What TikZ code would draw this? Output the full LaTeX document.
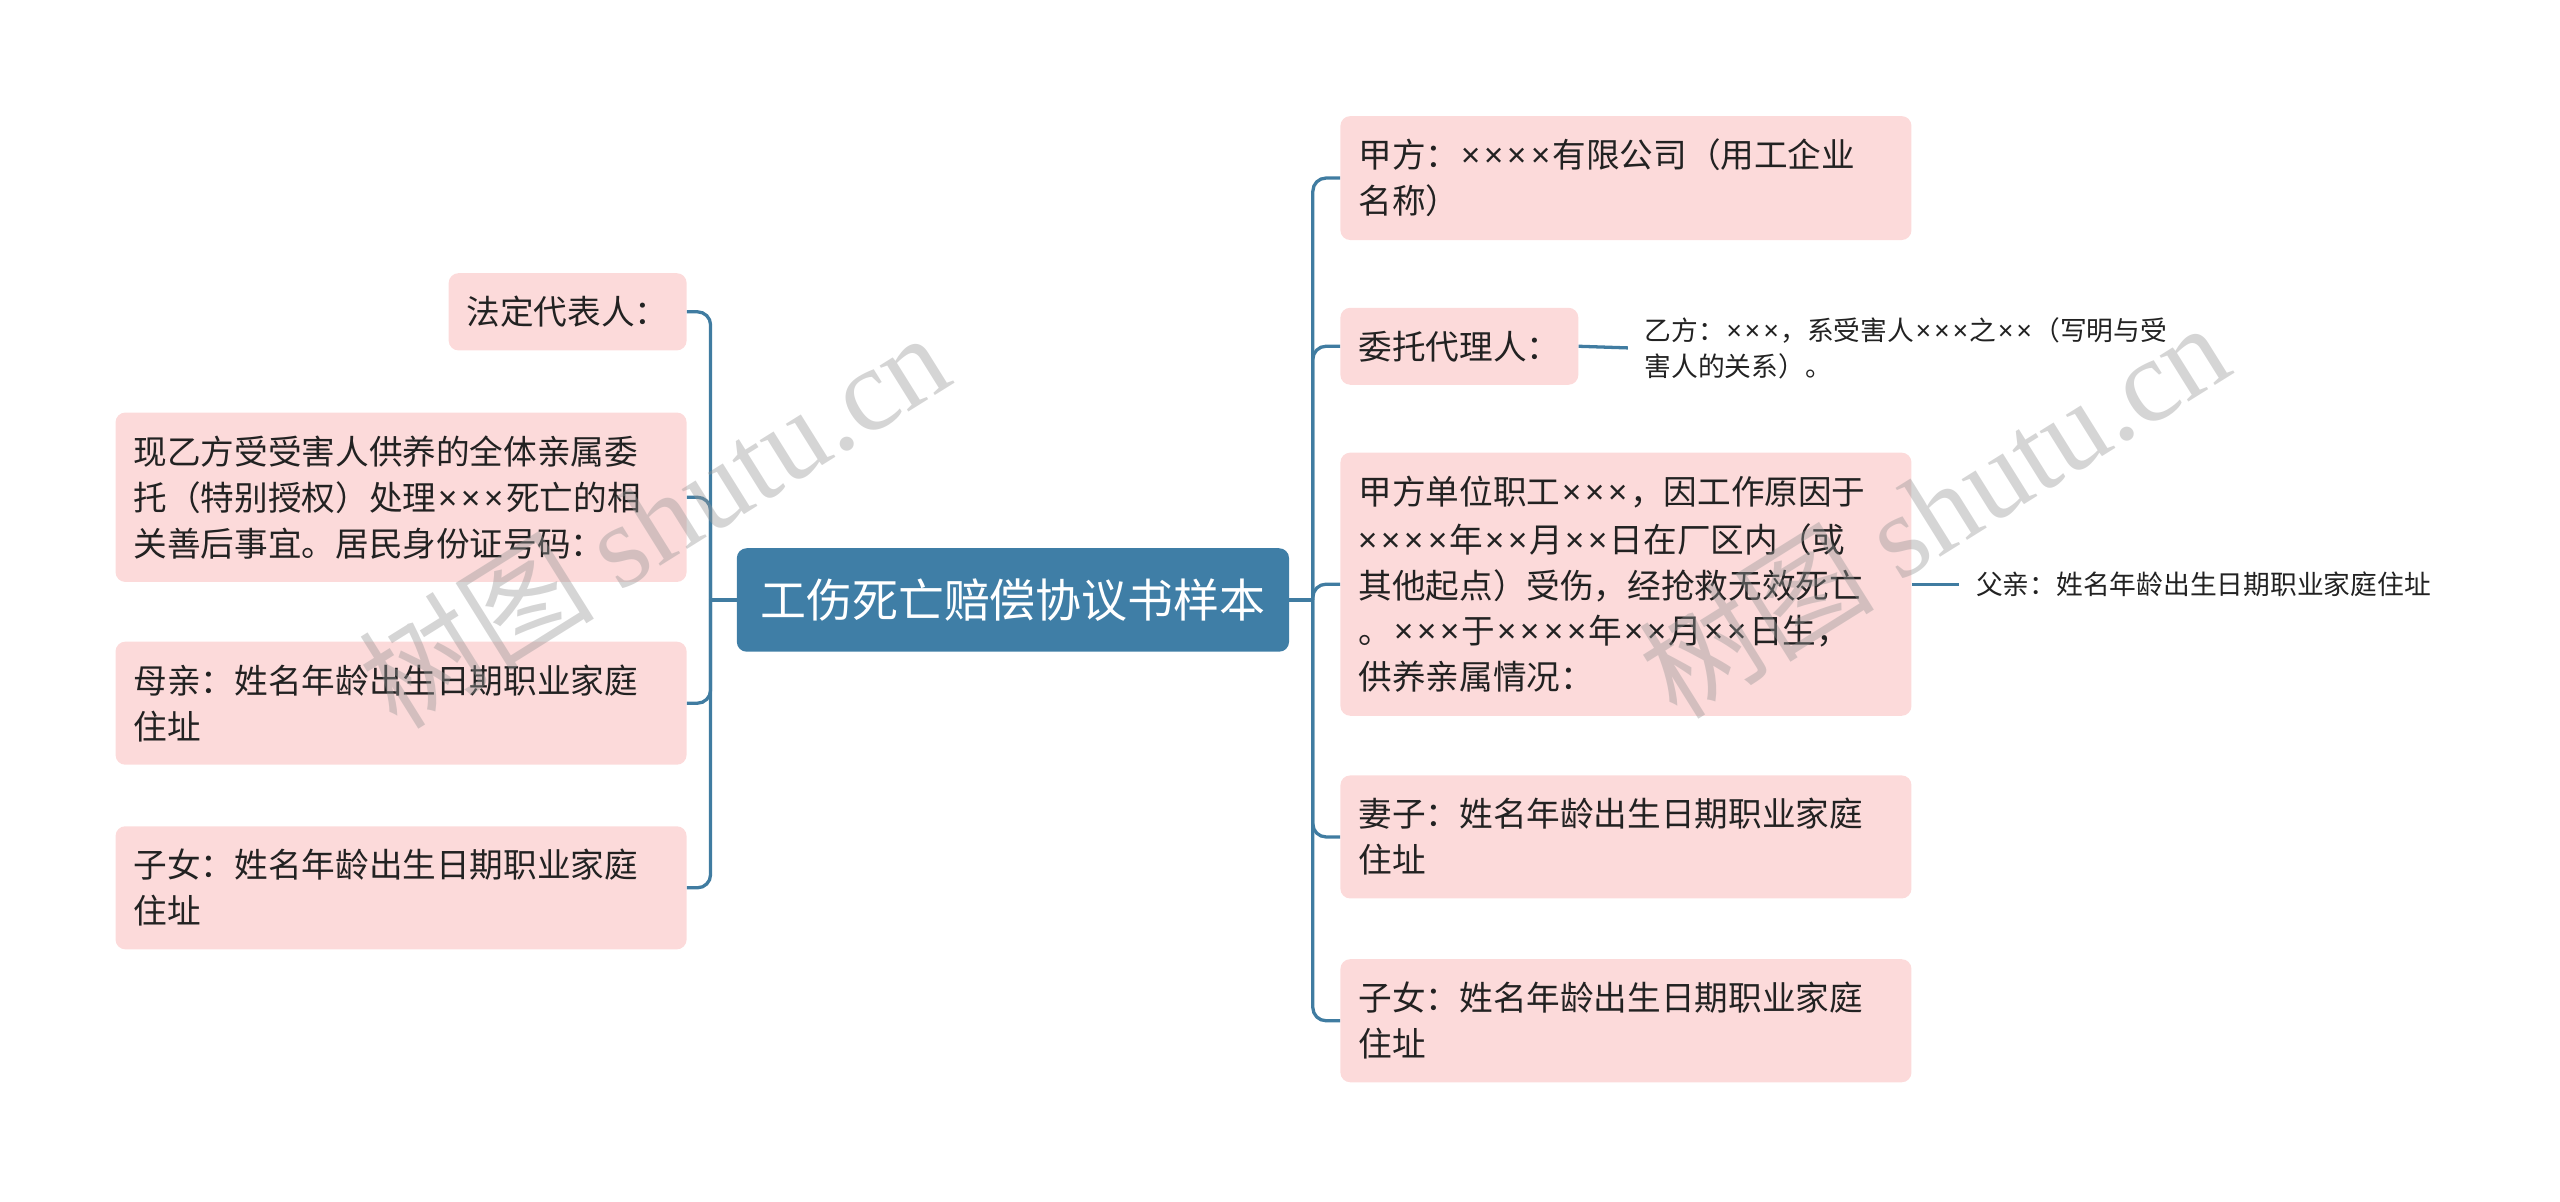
\documentclass[tikz,border=0pt]{standalone}
\usepackage{fontspec}
\setmainfont{Noto Sans CJK SC}
\newfontfamily\wmfont{Liberation Serif}
\newfontfamily\crossfont{Noto Sans}
\newcommand{\tms}{{\crossfont\kern0.06em×\kern0.06em}}
\usepackage{tikz}
\definecolor{topicblue}{RGB}{63,126,166}
\definecolor{linkblue}{RGB}{64,124,161}
\definecolor{boxpink}{RGB}{252,218,218}
\definecolor{inkgray}{RGB}{34,34,34}
\definecolor{wmgray}{RGB}{150,150,150}

\begin{document}
\begin{tikzpicture}[x=1pt,y=-1pt,
    root/.style={fill=topicblue, rounded corners=6pt, text=white, inner xsep=14.25pt, inner ysep=18.5pt, font=\fontsize{28}{32}\selectfont},
    box/.style={fill=boxpink, rounded corners=6pt, text=inkgray, align=left, inner xsep=11pt, inner ysep=14pt, font=\fontsize{20.5}{28}\selectfont},
    widebox/.style={box, text width=326pt, inner xsep=11pt},
    leaf/.style={text=inkgray, align=left, inner xsep=10pt, inner ysep=2pt, font=\fontsize{16.3}{22}\selectfont},
    link/.style={draw=linkblue, line width=2pt},
    wmark/.style={text=wmgray, opacity=0.4, rotate=32, font=\fontsize{72}{72}\selectfont}]
            \useasboundingbox (0,0) rectangle (1560,732);

            \node [root] (root) at (617.25,365.6) {工伤死亡赔偿协议书样本};

            \node [box, anchor=east] (fd) at (418.6,190) {法定代表人：};
            \node [widebox, anchor=east] (wt) at (418.6,303) {现乙方受受害人供养的全体亲属委\\托（特别授权）处理\tms\tms\tms 死亡的相\\关善后事宜。居民身份证号码：};
            \node [widebox, anchor=east] (mq) at (418.6,428.5) {母亲：姓名年龄出生日期职业家庭\\住址};
            \node [widebox, anchor=east] (zn) at (418.6,541) {子女：姓名年龄出生日期职业家庭\\住址};

            \node [widebox, anchor=west] (jf) at (816.6,108.5) {甲方：\tms\tms\tms\tms 有限公司（用工企业\\名称）};
            \node [box, anchor=west] (wd) at (816.6,211) {委托代理人：};
            \node [widebox, anchor=west] (dw) at (816.6,356) {甲方单位职工\tms\tms\tms ，因工作原因于\\\tms\tms\tms\tms 年\tms\tms 月\tms\tms 日在厂区内（或\\其他起点）受伤，经抢救无效死亡\\。\tms\tms\tms 于\tms\tms\tms\tms 年\tms\tms 月\tms\tms 日生，\\供养亲属情况：};
            \node [widebox, anchor=west] (qz) at (816.6,510) {妻子：姓名年龄出生日期职业家庭\\住址};
            \node [widebox, anchor=west] (zr) at (816.6,622) {子女：姓名年龄出生日期职业家庭\\住址};

            \node [leaf, anchor=west] (yf) at (992,212) {乙方：\tms\tms\tms ，系受害人\tms\tms\tms 之\tms\tms （写明与受\\害人的关系）。};
            \node [leaf, anchor=west] (fq) at (1194,356) {父亲：姓名年龄出生日期职业家庭住址};

            \coordinate (lj) at (433,365.6);
            \coordinate (rj) at (800,365.6);
            \draw [link] (root.west) -- (lj);
            \draw [link] (root.east) -- (rj);
            \foreach \n in {fd,wt,mq,zn}
                \draw [link, rounded corners=8pt] (lj) |- (\n.east);
            \foreach \n in {jf,wd,dw,qz,zr}
                \draw [link, rounded corners=8pt] (rj) |- (\n.west);
            \draw [link] (wd.east) -- (yf.west);
            \draw [link] (dw.east) -- (fq.west);

            \node [wmark] (wm1) at (398,316) {树图 {\wmfont shutu.cn}};
            \node [wmark] (wm2) at (1178,310) {树图 {\wmfont shutu.cn}};
        \end{tikzpicture}
\end{document}
